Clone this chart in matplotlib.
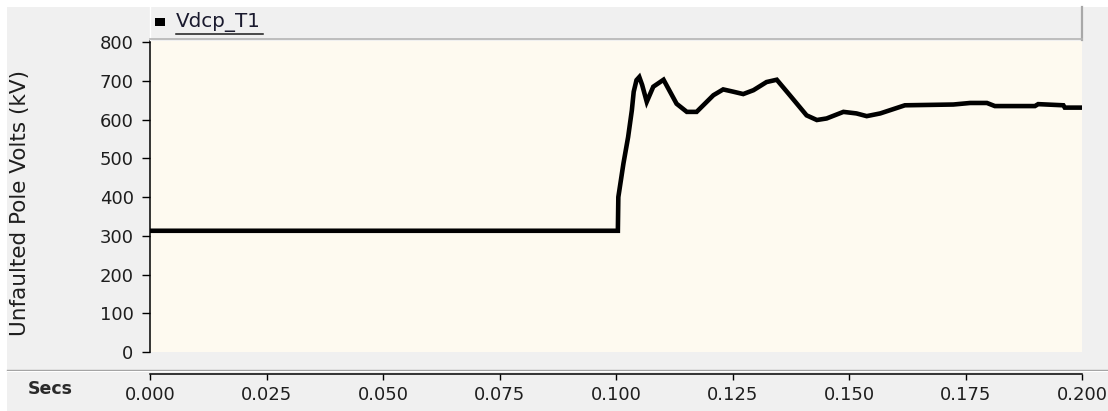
import matplotlib
matplotlib.use("Agg")
import matplotlib.pyplot as plt
from matplotlib.lines import Line2D
from matplotlib.patches import Rectangle
from matplotlib.ticker import FormatStrFormatter

# ---- data ----
time_s = [0.0, 0.1004, 0.1005, 0.1016, 0.1026, 0.1034, 0.1038, 0.1044, 0.1050,
          0.1056, 0.1066, 0.1080, 0.1102, 0.1130, 0.1152, 0.1173, 0.1209, 0.1230,
          0.1252, 0.1273, 0.1295, 0.1323, 0.1345, 0.1373, 0.1409, 0.1431, 0.1452,
          0.1488, 0.1516, 0.1538, 0.1567, 0.1620, 0.1724, 0.1760, 0.1796, 0.1813,
          0.1899, 0.1906, 0.1960, 0.1963, 0.2000]
vdcp_kv = [313, 313, 400, 487, 555, 624, 672, 702, 710,
           690, 646, 685, 703, 641, 620, 620, 663, 678,
           672, 666, 676, 697, 703, 663, 611, 599, 603,
           620, 616, 609, 616, 637, 639, 643, 643, 635,
           635, 640, 637, 631, 631]
series_name = "Vdcp_T1"
y_label = "Unfaulted Pole Volts (kV)"
x_unit_label = "Secs"
y_ticks = [0, 100, 200, 300, 400, 500, 600, 700, 800]
x_ticks = [0.000, 0.025, 0.050, 0.075, 0.100, 0.125, 0.150, 0.175, 0.200]

W, H = 1108, 411
BG = "#F0F0F0"
PLOT_BG = "#FEFAF0"
TXT = "#1E1E1E"

fig = plt.figure(figsize=(W / 100, H / 100), dpi=100, facecolor=BG)


def fx(x):
    return x / W


def fy(y):
    return 1 - y / H


# white outer bands (top & left)
fig.patches.append(Rectangle((0, fy(7)), 1, 7 / H, transform=fig.transFigure,
                             facecolor="white", edgecolor="none", zorder=0))
fig.patches.append(Rectangle((0, 0), 7 / W, 1, transform=fig.transFigure,
                             facecolor="white", edgecolor="none", zorder=0))

# main axes
left, right, top, bottom = 150, 1082, 41, 352
ax = fig.add_axes([fx(left), fy(bottom), (right - left) / W, (bottom - top) / H])
ax.set_facecolor(PLOT_BG)
ax.plot(time_s, vdcp_kv, color="black", lw=3.3, solid_joinstyle="miter",
        solid_capstyle="butt")
ax.set_xlim(0, 0.2)
ax.set_ylim(0, 803)
ax.set_yticks(y_ticks)
ax.set_xticks(x_ticks)
ax.xaxis.set_major_formatter(FormatStrFormatter("%.3f"))

for s in ["top", "right"]:
    ax.spines[s].set_visible(False)
ax.spines["left"].set_linewidth(1.1)
ax.spines["left"].set_color("black")
ax.spines["bottom"].set_position(("outward", 15.8))
ax.spines["bottom"].set_linewidth(1.1)
ax.spines["bottom"].set_color("black")

ax.tick_params(axis="y", direction="out", length=5.8, width=1.0, pad=6,
               labelsize=13, labelcolor=TXT, color="black")
ax.tick_params(axis="x", direction="out", length=4.3, width=1.0, pad=4.5,
               labelsize=13, labelcolor=TXT, color="black")

# separator line above the x-axis panel
fig.add_artist(Line2D([fx(7), 1], [fy(370), fy(370)], transform=fig.transFigure,
                      color="#A0A0A0", lw=1.0))
fig.add_artist(Line2D([fx(7), 1], [fy(371.2), fy(371.2)], transform=fig.transFigure,
                      color="white", lw=0.8))

# header (legend) strip
fig.add_artist(Line2D([fx(150), fx(150)], [fy(7), fy(40)], transform=fig.transFigure,
                      color="white", lw=1.0))
fig.add_artist(Line2D([fx(1081.5), fx(1081.5)], [fy(7), fy(40)], transform=fig.transFigure,
                      color="#A8A8A8", lw=1.6))
fig.add_artist(Line2D([fx(150), fx(1082)], [fy(39.5), fy(39.5)], transform=fig.transFigure,
                      color="#B4B4B4", lw=1.2))
fig.patches.append(Rectangle((fx(155), fy(26)), 10 / W, 8 / H, transform=fig.transFigure,
                             facecolor="black", edgecolor="none"))
fig.text(fx(176), fy(22), series_name, fontsize=14.3, color="#1A1A2E",
         ha="left", va="center")
fig.add_artist(Line2D([fx(176), fx(263)], [fy(34), fy(34)], transform=fig.transFigure,
                      color="#1A1A1A", lw=1.1))

# labels
fig.text(fx(20), fy(203), y_label, rotation=90, fontsize=15.5, color=TXT,
         ha="center", va="center")
fig.text(fx(50), fy(389), x_unit_label, fontsize=12.5, fontweight="bold",
         color="#2A2A2A", ha="center", va="center")

fig.savefig("out.png", dpi=100, facecolor=BG)
